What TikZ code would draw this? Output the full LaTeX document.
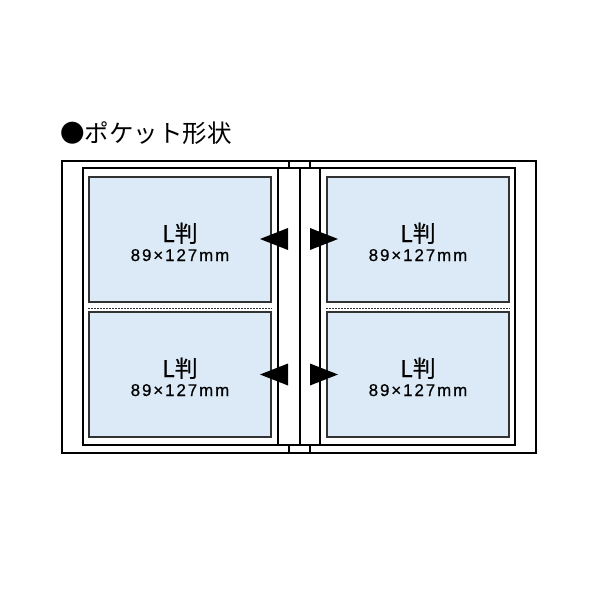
\documentclass[tikz,border=0pt]{standalone}
\usepackage{fontspec}
\setmainfont{Noto Sans CJK JP}
\newfontfamily\lblfont[FakeBold=0.8]{Noto Sans CJK JP}
\newfontfamily\numfont[LetterSpace=11,FakeBold=0.5]{Liberation Sans}
\usetikzlibrary{positioning}

\definecolor{photoblue}{RGB}{220,234,247}
\definecolor{photoedge}{RGB}{50,50,50}

\newcommand*{\colL}{180}
\newcommand*{\colR}{418}
\newcommand*{\rowT}{239}
\newcommand*{\rowB}{374.5}

\begin{document}
\begin{tikzpicture}
[
	x=1pt, y=-1pt,
	frame/.style={draw=black,line width=2pt},
	photo/.style={draw=photoedge,fill=photoblue,line width=2pt,minimum width=182pt,minimum height=125pt,inner sep=0pt},
	sizelbl/.style={font=\lblfont\fontsize{23}{23}\selectfont,anchor=base,inner sep=0pt},
	dimlbl/.style={font=\numfont\fontsize{17}{17}\selectfont,anchor=base,inner sep=0pt},
	pointer/.style={fill=black}
]
	\useasboundingbox (0,0) rectangle (600,600);

	% title
	\node[anchor=base west,inner sep=0pt,font=\fontsize{24.5}{24.5}\selectfont] (title) at (60,142) {●ポケット形状};

	% album frame
	\draw[frame] (62,161) rectangle (536,453);
	\draw[frame] (83,168) rectangle (515,445);
	\draw[frame] (289,161) -- (289,168);
	\draw[frame] (310,161) -- (310,168);
	\draw[frame] (289,445) -- (289,453);
	\draw[frame] (310,445) -- (310,453);
	\draw[frame] (278,168) -- (278,445);
	\draw[frame] (300,168) -- (300,445);
	\draw[frame] (320,168) -- (320,445);

	% pockets
	\foreach \cx/\nm in {\colL/l,\colR/r}{
		\node[photo] (\nm t) at (\cx,\rowT) {};
		\node[photo] (\nm b) at (\cx,\rowB) {};
		\draw[photoedge,line width=1.5pt,dash pattern=on 1.5pt off 1.5pt] (\nm t.south west) ++(0,6) -- ([yshift=-6pt]\nm t.south east);
	}

	% labels
	\foreach \cx/\cy in {\colL/242,\colR/242,\colL/377,\colR/377}{
		\node[sizelbl] at (\cx,\cy) {L判};
		\node[dimlbl] at (\cx,\cy+19) {89×127mm};
	}

	% pointers
	\foreach \cy in {\rowT,\rowB}{
		\fill[pointer] (260,\cy) -- (288,\cy-11) -- (288,\cy+11) -- cycle;
		\fill[pointer] (338,\cy) -- (310,\cy-11) -- (310,\cy+11) -- cycle;
	}

\end{tikzpicture}
\end{document}
